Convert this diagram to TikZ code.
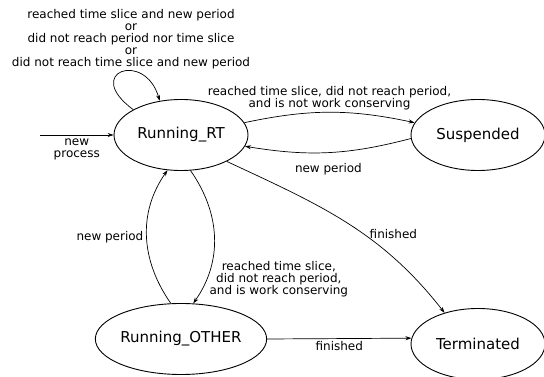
\documentclass[tikz,border=0pt]{standalone}
\usepackage{fontspec}
\setmainfont{DejaVu Sans}
\usepackage{tikz}
\usetikzlibrary{shapes.geometric, arrows.meta}

\begin{document}
\begin{tikzpicture}[x=1pt, y=1pt,
  state/.style={draw, ellipse, line width=0.9pt, inner sep=0pt,
    minimum width=134pt, minimum height=71pt, font=\fontsize{15}{17}\selectfont},
  trans/.style={line width=0.7pt, -{Stealth[length=6pt, width=4pt]}},
  lbl/.style={font=\fontsize{12}{12}\selectfont, align=center, inner sep=2pt}]
\useasboundingbox (0,0) rectangle (544,377);
\node[state] (rt) at (181,242) {Running\_RT};
\node[state] (sus) at (478,242) {Suspended};
\node[state] (oth) at (181,38) {Running\_OTHER};
\node[state] (ter) at (478,33) {Terminated};
\coordinate (new) at (40,242);
\node[lbl] (looplbl) at (131,338) {reached time slice and new period\\or\\did not reach period nor time slice\\or\\did not reach time slice and new period};
%% edges
\draw[trans] (new) -- (rt) node[lbl, midway, below, inner sep=3pt] {new\\process};
\draw[trans] (rt.152) .. controls (82,305) and (145,327) .. (rt.122);
\draw[trans] (rt.11) to[bend left=12] node[lbl, midway, above] {reached time slice, did not reach period,\\and is not work conserving} (sus.169);
\draw[trans] (sus.183) to[bend left=12] node[lbl, midway, below, yshift=-9pt] {new period} (rt.-10);
\draw[trans] (rt.-30) to[out=-25, in=128] node[lbl, pos=.6, anchor=west, yshift=3pt] {finished} (ter.137);
\draw[trans] (rt.-75) to[out=-55, in=55] node[lbl, pos=.8, anchor=west, yshift=-2pt] {reached time slice,\\did not reach period,\\and is work conserving} (oth.71);
\draw[trans] (oth.106) to[out=125, in=-125] node[lbl, midway, anchor=east, inner sep=3pt] {new period} (rt.-111);
\draw[trans] (oth.east) -- (ter.175) node[lbl, midway, below] {finished};
\end{tikzpicture}
\end{document}
